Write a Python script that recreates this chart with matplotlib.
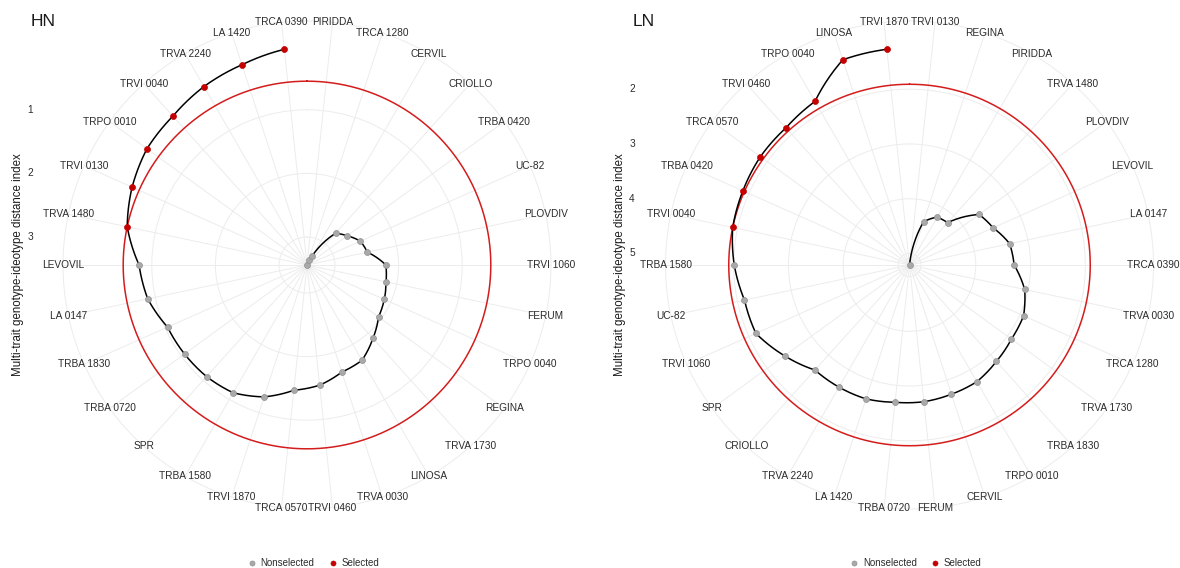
import numpy as np
import matplotlib
matplotlib.use("Agg")
import matplotlib.pyplot as plt
from matplotlib.lines import Line2D

plt.rcParams['font.family'] = ['Liberation Sans', 'DejaVu Sans']

# genotypes in plotting order (clockwise from top), MGIDI values
hn_genotypes = ["PIRIDDA", "TRCA 1280", "CERVIL", "CRIOLLO", "TRBA 0420", "UC-82",
                "PLOVDIV", "TRVI 1060", "FERUM", "TRPO 0040", "REGINA", "TRVA 1730",
                "LINOSA", "TRVA 0030", "TRVI 0460", "TRCA 0570", "TRVI 1870", "TRBA 1580",
                "SPR", "TRBA 0720", "TRBA 1830", "LA 0147", "LEVOVIL", "TRVA 1480",
                "TRVI 0130", "TRPO 0010", "TRVI 0040", "TRVA 2240", "LA 1420", "TRCA 0390"]
hn_mgidi = [3.44, 3.36, 3.27, 2.77, 2.66, 2.52, 2.47, 2.20, 2.17, 2.11, 2.05, 1.89,
            1.71, 1.67, 1.54, 1.46, 1.26, 1.12, 1.08, 1.06, 1.04, 0.88, 0.80, 0.55,
            0.43, 0.33, 0.29, 0.20, 0.13, 0.03]
hn_selected = ["TRVA 1480", "TRVI 0130", "TRPO 0010", "TRVI 0040", "TRVA 2240",
               "LA 1420", "TRCA 0390"]
hn_yticks = [1, 2, 3]

ln_genotypes = ["TRVI 0130", "REGINA", "PIRIDDA", "TRVA 1480", "PLOVDIV", "LEVOVIL",
                "LA 0147", "TRCA 0390", "TRVA 0030", "TRCA 1280", "TRVA 1730", "TRBA 1830",
                "TRPO 0010", "CERVIL", "FERUM", "TRBA 0720", "LA 1420", "TRVA 2240",
                "CRIOLLO", "SPR", "TRVI 1060", "UC-82", "TRBA 1580", "TRVI 0040",
                "TRBA 0420", "TRCA 0570", "TRVI 0460", "TRPO 0040", "LINOSA", "TRVI 1870"]
ln_mgidi = [5.21, 4.38, 4.20, 4.17, 3.64, 3.54, 3.34, 3.30, 3.06, 2.93, 2.91, 2.84,
            2.75, 2.73, 2.70, 2.69, 2.64, 2.635, 2.63, 2.39, 2.14, 2.13, 2.01, 1.91,
            1.88, 1.845, 1.84, 1.76, 1.27, 1.25]
ln_selected = ["TRVI 0040", "TRBA 0420", "TRCA 0570", "TRVI 0460", "TRPO 0040",
               "LINOSA", "TRVI 1870"]
ln_yticks = [2, 3, 4, 5]

W, H = 1180, 568
RED = '#d41c1c'
SEL = '#c40000'
NONSEL = '#a9a9a9'
GRID = '#ececec'
TXT = '#2b2b2b'

fig = plt.figure(figsize=(W / 100, H / 100), dpi=100)


def mgidi_panel(cx, cy, radius, title, genotypes, mgidi, selected, yticks, left_x):
    ax = fig.add_axes([(cx - radius) / W, (H - cy - radius) / H,
                       2 * radius / W, 2 * radius / H], projection='polar')
    n = len(genotypes)
    theta = (np.arange(n) + 0.5) * 2 * np.pi / n
    mgidi = np.asarray(mgidi)
    vmax, vmin = mgidi.max(), mgidi.min()
    edge = vmin - (vmax - vmin) * 0.125
    ax.set_theta_zero_location('N')
    ax.set_theta_direction(-1)
    ax.set_ylim(vmax, edge)

    ax.set_xticks(theta)
    ax.set_xticklabels([])
    ax.set_yticks(yticks)
    ax.set_yticklabels([])
    ax.tick_params(size=0)
    ax.grid(color=GRID, lw=0.7)
    ax.spines['polar'].set_color(GRID)
    ax.spines['polar'].set_linewidth(0.7)

    sel = np.isin(genotypes, selected)
    cut = mgidi[sel].max()
    circ = np.linspace(0, 2 * np.pi, 361)
    ax.plot(circ, np.full_like(circ, cut), color=RED, lw=1.1, zorder=2)

    line, = ax.plot(theta, mgidi, color='black', lw=1.1, zorder=3)
    line.get_path()._interpolation_steps = 20
    ax.plot(theta[~sel], mgidi[~sel], ls='', marker='o', ms=4.3,
            mfc=NONSEL, mec='#8f8f8f', mew=0.5, zorder=4)
    ax.plot(theta[sel], mgidi[sel], ls='', marker='o', ms=4.3,
            mfc=SEL, mec=SEL, mew=0.5, zorder=4)

    for t, g in zip(theta, genotypes):
        ax.text(t, edge, g, ha='center', va='center', fontsize=7.3, color=TXT)

    # radial axis labels on the left margin, at the height of each break
    for v in yticks:
        y = ax.transData.transform((0, v))[1]
        fig.text((left_x + 12) / W, y / H, str(v), ha='center', va='center',
                 fontsize=7.3, color=TXT)
    fig.text((left_x + 0) / W, 1 - cy / H,
             'Multi-trait genotype-ideotype distance index', rotation=90,
             ha='center', va='center', fontsize=8.3, color='#1a1a1a')
    fig.text((left_x + 13) / W, 1 - 22 / H, title, ha='left', va='center',
             fontsize=12.5, color='#1a1a1a')

    handles = [Line2D([], [], ls='', marker='o', ms=3.6, mfc=NONSEL, mec='#8f8f8f', mew=0.5),
               Line2D([], [], ls='', marker='o', ms=3.6, mfc=SEL, mec=SEL, mew=0.5)]
    fig.legend(handles, ['Nonselected', 'Selected'], loc='center', ncol=2,
               bbox_to_anchor=((cx + 6) / W, 1 - 563 / H), frameon=False,
               fontsize=7, handlelength=1.0, handletextpad=0.4, columnspacing=1.4,
               labelcolor=TXT)
    return ax


mgidi_panel(307, 265, 244, 'HN', hn_genotypes, hn_mgidi, hn_selected, hn_yticks, 18)
mgidi_panel(909.5, 265, 244, 'LN', ln_genotypes, ln_mgidi, ln_selected, ln_yticks, 620)

fig.savefig('out.png', dpi=100, facecolor='white')
